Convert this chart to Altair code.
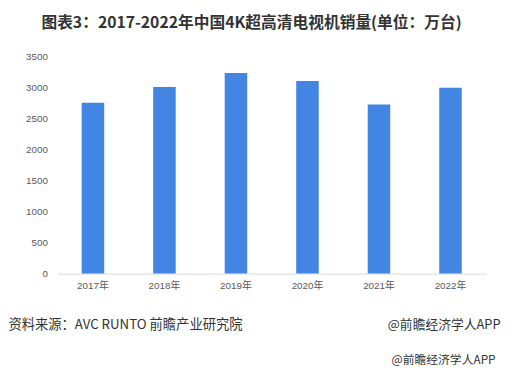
import altair as alt
import pandas as pd

years = ["2017年", "2018年", "2019年", "2020年", "2021年", "2022年"]
sales = [2750, 3005, 3230, 3100, 2720, 2990]
y_ticks = [0, 500, 1000, 1500, 2000, 2500, 3000, 3500]

title_text = "图表3：2017-2022年中国4K超高清电视机销量(单位：万台)"
source_text = "资料来源：AVC RUNTO 前瞻产业研究院"
brand_text = "@前瞻经济学人APP"

df = pd.DataFrame({"year": years, "sales": sales})
FONT = "Liberation Sans, Arial, Noto Sans CJK SC, sans-serif"
CJK = "Noto Sans CJK SC, Liberation Sans, sans-serif"

x_scale = alt.Scale(paddingInner=0.685, paddingOuter=0.3425)
y_scale = alt.Scale(domain=[0, 3500], nice=False)

bars = alt.Chart(df).mark_bar(color="#4285E3").encode(
    x=alt.X("year:N", sort=years, scale=x_scale,
            axis=alt.Axis(orient="bottom", title=source_text,
                          titleX=-50, titleY=52, titleAlign="left", titleBaseline="middle",
                          titleFont=CJK, titleFontSize=13.5, titleFontWeight="normal",
                          titleColor="#333333",
                          labelAngle=0, labelFontSize=10, labelColor="#595959",
                          labelFont=FONT, labelPadding=7, ticks=False,
                          domainColor="#d9d9d9", domainWidth=1)),
    y=alt.Y("sales:Q", scale=y_scale,
            axis=alt.Axis(orient="left", title=title_text,
                          titleX=197, titleY=-34, titleAngle=0, titleAlign="center",
                          titleBaseline="middle", titleFont=CJK, titleFontSize=16,
                          titleFontWeight="bold", titleColor="#333333",
                          values=y_ticks, format="d", grid=False, domain=False, ticks=False,
                          labelFontSize=10, labelColor="#595959", labelFont=FONT,
                          labelPadding=10)),
)

ghost = alt.Chart(df).mark_bar(opacity=0).encode(
    x=alt.X("year:N", sort=years, scale=x_scale,
            axis=alt.Axis(orient="top", title=brand_text, labels=False, ticks=False,
                          domain=False, grid=False,
                          titleX=445, titleY=308, titleAlign="right", titleBaseline="middle",
                          titleFont=CJK, titleFontSize=12, titleFontWeight="normal",
                          titleColor="#333333")),
    y=alt.Y("sales:Q", scale=y_scale,
            axis=alt.Axis(orient="right", title=brand_text, labels=False, ticks=False,
                          domain=False, grid=False,
                          titleX=14, titleY=273, titleAngle=0, titleAlign="right",
                          titleBaseline="middle", titleFont=CJK, titleFontSize=13,
                          titleFontWeight="normal", titleColor="#333333")),
)

chart = alt.layer(bars, ghost).resolve_axis(x="independent", y="independent").properties(
    width=436, height=221,
    background="white",
    view=alt.ViewBackground(stroke=None, strokeWidth=0),
    autosize=alt.AutoSizeParams(type="none"),
    padding={"left": 50, "top": 46, "right": 15, "bottom": 92},
).configure_view(stroke=None)

chart.save("out.html", embed_options={"renderer": "svg", "actions": False})
